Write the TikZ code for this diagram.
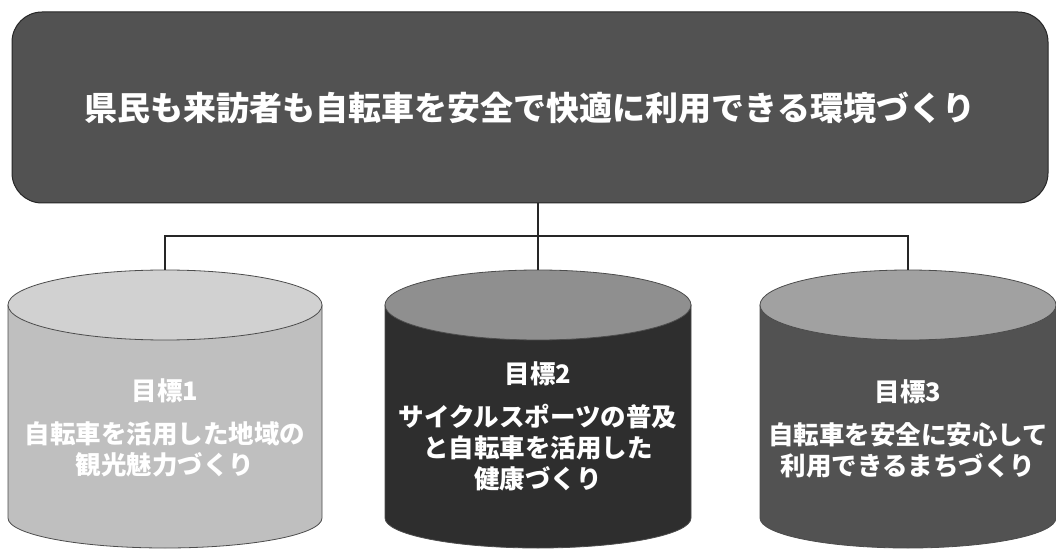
\documentclass[tikz,border=0pt]{standalone}
\usepackage{fontspec}
\newfontfamily\jpfont{Noto Sans CJK JP}
\usepackage{tikz}
\usetikzlibrary{positioning}
\tikzstyle{link} = [line width=1.4pt, black!85]
\tikzstyle{vision} = [rounded corners=30pt, draw=black!85, fill=black!68, line width=1pt, minimum width=1036pt, minimum height=191pt, text=white, font=\jpfont\bfseries\fontsize{33}{38}\selectfont]
\tikzstyle{goaltext} = [text=white, align=center, font=\jpfont\bfseries\fontsize{25.5}{31}\selectfont]
\tikzstyle{rim} = [draw=black!70, line width=0.8pt]

\begin{document}
\begin{tikzpicture}[x=1pt,y=1pt]
  \useasboundingbox (0,0) rectangle (1056,549);
  \def\ry{35}

  % overall aim
  \node[vision] (Vision) at (530,441.5) {県民も来訪者も自転車を安全で快適に利用できる環境づくり};

  % tops of the cylinders
  \coordinate (TopOne) at (165,{244+\ry});
  \coordinate (TopTwo) at (538,{244+\ry});
  \coordinate (TopThree) at (908,{244+\ry});
  \coordinate (Branch) at (538,313);

  % cylinder 1
  \fill[rim, fill=black!25] (8,244) -- (8,31) arc[start angle=180, end angle=360, x radius=157, y radius=30] -- (322,244) -- cycle;
  \fill[rim, fill=black!18] (165,244) ellipse[x radius=157, y radius=\ry];
  % cylinder 2
  \fill[rim, fill=black!82] (385,244) -- (385,31) arc[start angle=180, end angle=360, x radius=153, y radius=30] -- (691,244) -- cycle;
  \fill[rim, fill=black!44] (538,244) ellipse[x radius=153, y radius=\ry];
  % cylinder 3
  \fill[rim, fill=black!68] (760,244) -- (760,31) arc[start angle=180, end angle=360, x radius=148, y radius=30] -- (1056,244) -- cycle;
  \fill[rim, fill=black!37] (908,244) ellipse[x radius=148, y radius=\ry];

  % goal texts
  \node[goaltext] (textOne) at (165,121) {目標1\\[12pt]自転車を活用した地域の\\観光魅力づくり};
  \node[goaltext] (textTwo) at (538,123) {目標2\\[12pt]サイクルスポーツの普及\\と自転車を活用した\\健康づくり};
  \node[goaltext] (textThree) at (908,120) {目標3\\[12pt]自転車を安全に安心して\\利用できるまちづくり};

  % connectors
  \draw[link] (Vision.south -| TopTwo) -- (TopTwo);
  \draw[link] (TopOne) -- (TopOne |- Branch) -- (TopThree |- Branch) -- (TopThree);
\end{tikzpicture}
\end{document}
